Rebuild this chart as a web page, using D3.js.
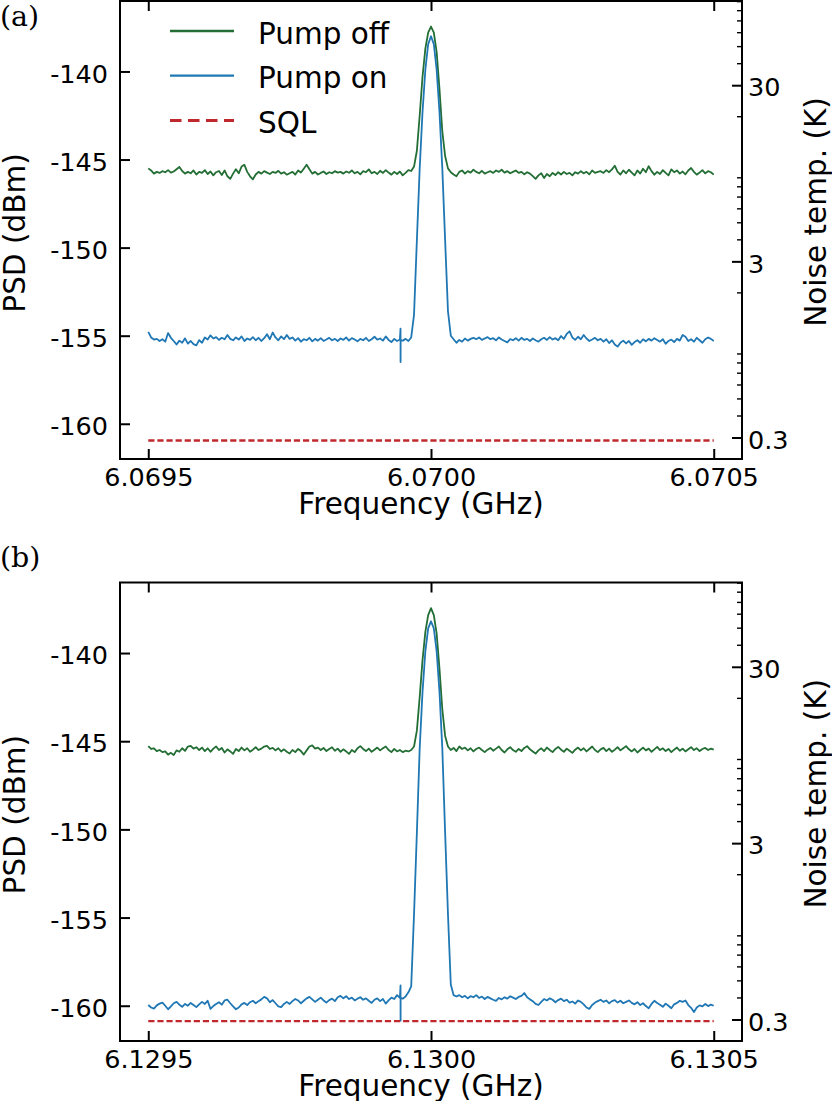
<!DOCTYPE html>
<html><head><meta charset="utf-8">
<script src="https://cdn.jsdelivr.net/npm/d3@7"></script>
<style>body{margin:0;background:#fff}svg{display:block}</style>
</head><body>
<svg id="chart" width="832" height="1101"></svg>
<script>
// ---------------- data ----------------
const centerA = 6.0700, centerB = 6.1300;   // GHz
const sweepHalfSpan = 0.0005;                // GHz
const sweepStep = 0.000005;                  // GHz (5 kHz)
const xTicksA = [6.0695, 6.0700, 6.0705];
const xTickLabelsA = ["6.0695", "6.0700", "6.0705"];
const xTicksB = [6.1295, 6.1300, 6.1305];
const xTickLabelsB = ["6.1295", "6.1300", "6.1305"];
const yTicks = [-160, -155, -150, -145, -140];
const yTickLabels = ["-160", "-155", "-150", "-145", "-140"];
const tempTicks = [0.3, 3, 30];
const tempTickLabels = ["0.3", "3", "30"];
const tempMinorTicks = [0.4,0.5,0.6,0.7,0.8,0.9,2,4,5,6,7,8,9,20,40,50,60,70,80,90];
const tempRefK = 30, tempRefDbm = -140.78;
const sqlA = -160.95, sqlB = -160.87;
const seriesNames = ["Pump off", "Pump on", "SQL"];

const pumpOffA = [
-145.50,-145.62,-145.80,-145.70,-145.76,-145.66,-145.72,-145.60,-145.74,-145.68,
-145.55,-145.42,-145.65,-145.80,-145.70,-145.78,-145.62,-145.85,-145.70,-145.76,
-145.60,-145.82,-145.68,-145.90,-145.72,-145.65,-145.88,-145.62,-145.95,-146.10,
-145.80,-145.55,-145.78,-145.40,-145.30,-145.70,-145.95,-146.12,-145.85,-145.70,
-145.80,-145.66,-145.74,-145.82,-145.70,-145.76,-145.64,-145.80,-145.72,-145.86,
-145.78,-145.70,-145.85,-145.62,-145.74,-145.52,-145.30,-145.55,-145.80,-145.70,
-145.85,-145.76,-145.68,-145.82,-145.72,-145.78,-145.66,-145.74,-145.70,-145.80,
-145.68,-145.75,-145.62,-145.78,-145.70,-145.84,-145.66,-145.72,-145.56,-145.78,
-145.70,-145.82,-145.64,-145.76,-145.60,-145.74,-145.86,-145.70,-145.82,-145.68,
-145.90,-145.76,-145.60,-145.65,-145.40,-144.50,-142.50,-140.30,-138.70,-137.80,
-137.45,-137.80,-138.90,-141.00,-143.40,-144.80,-145.50,-145.72,-145.85,-145.95,
-145.70,-145.62,-145.80,-145.66,-145.74,-145.58,-145.70,-145.78,-145.64,-145.80,
-145.72,-145.66,-145.76,-145.62,-145.70,-145.58,-145.74,-145.66,-145.78,-145.70,
-145.62,-145.76,-145.70,-145.84,-145.72,-145.80,-145.94,-146.10,-145.90,-145.78,
-146.05,-145.82,-145.95,-145.76,-145.88,-145.72,-145.85,-145.70,-145.82,-145.76,
-145.90,-145.72,-145.80,-145.66,-145.78,-145.70,-145.84,-145.62,-145.76,-145.70,
-145.66,-145.76,-145.60,-145.72,-145.56,-145.35,-145.70,-145.85,-145.62,-145.78,
-145.58,-145.74,-145.90,-145.62,-145.80,-145.52,-145.72,-145.38,-145.66,-145.86,
-145.70,-145.82,-145.60,-145.76,-145.90,-145.56,-145.72,-145.62,-145.80,-145.68,
-145.84,-145.62,-145.48,-145.70,-145.86,-145.74,-145.60,-145.78,-145.66,-145.72,
-145.86];

const pumpOnA = [
-154.78,-155.10,-155.22,-155.18,-155.30,-155.20,-155.34,-154.85,-155.12,-155.30,
-155.50,-155.28,-155.40,-155.15,-155.45,-155.30,-155.48,-155.55,-155.25,-155.40,
-155.10,-155.22,-154.98,-155.16,-155.08,-155.24,-155.12,-155.20,-154.96,-155.18,
-155.26,-155.10,-155.22,-155.04,-155.30,-155.16,-155.24,-155.08,-155.26,-155.12,
-155.30,-155.14,-154.92,-155.20,-154.82,-155.10,-155.26,-155.04,-155.20,-154.96,
-155.18,-155.10,-155.28,-155.14,-155.34,-155.20,-155.26,-155.12,-155.32,-155.18,
-155.28,-155.14,-155.30,-155.22,-155.12,-155.26,-155.18,-155.30,-155.16,-155.24,
-155.10,-155.28,-155.14,-155.22,-155.32,-155.18,-155.26,-155.12,-155.30,-155.20,
-155.06,-155.22,-155.16,-155.28,-155.04,-155.24,-155.36,-155.18,-155.30,-155.22,
-155.28,-155.18,-155.30,-155.10,-153.80,-149.60,-145.50,-142.30,-139.90,-138.45,
-138.00,-138.45,-139.90,-142.30,-145.50,-149.60,-153.60,-155.00,-155.20,-155.40,
-155.24,-155.34,-155.16,-155.28,-155.18,-155.12,-155.20,-155.10,-155.24,-155.16,
-155.08,-155.20,-155.14,-155.26,-155.10,-155.22,-155.30,-155.38,-155.20,-155.26,
-155.14,-155.28,-155.12,-155.24,-155.18,-155.30,-155.16,-155.26,-155.34,-155.20,
-155.12,-155.24,-155.08,-155.22,-155.14,-155.26,-155.02,-155.18,-154.90,-154.75,
-155.10,-155.24,-155.06,-155.20,-154.96,-155.16,-155.30,-155.22,-155.12,-155.26,
-155.18,-155.34,-155.20,-155.42,-155.26,-155.50,-155.62,-155.40,-155.28,-155.44,
-155.30,-155.52,-155.36,-155.26,-155.40,-155.20,-155.32,-155.18,-155.28,-155.14,
-155.24,-155.34,-155.20,-155.46,-155.30,-155.22,-155.36,-155.18,-155.28,-154.96,
-155.06,-155.30,-155.20,-155.34,-155.12,-155.26,-155.40,-155.20,-155.10,-155.18,
-155.30];

const pumpOffB = [
-145.28,-145.44,-145.40,-145.56,-145.50,-145.62,-145.58,-145.76,-145.66,-145.78,
-145.52,-145.60,-145.40,-145.55,-145.30,-145.26,-145.42,-145.34,-145.50,-145.36,
-145.56,-145.40,-145.60,-145.42,-145.30,-145.50,-145.38,-145.64,-145.46,-145.58,
-145.72,-145.44,-145.56,-145.36,-145.52,-145.40,-145.60,-145.48,-145.34,-145.50,
-145.42,-145.30,-145.26,-145.44,-145.38,-145.52,-145.40,-145.58,-145.46,-145.60,
-145.70,-145.50,-145.62,-145.44,-145.56,-145.76,-145.52,-145.30,-145.24,-145.42,
-145.36,-145.50,-145.38,-145.56,-145.44,-145.34,-145.54,-145.42,-145.60,-145.46,
-145.58,-145.72,-145.50,-145.62,-145.40,-145.28,-145.44,-145.56,-145.42,-145.60,
-145.48,-145.36,-145.52,-145.40,-145.30,-145.50,-145.62,-145.44,-145.58,-145.50,
-145.62,-145.54,-145.58,-145.50,-145.30,-144.40,-142.50,-140.40,-138.80,-137.85,
-137.45,-137.85,-138.90,-140.90,-143.20,-144.70,-145.30,-145.50,-145.38,-145.56,
-145.30,-145.44,-145.36,-145.52,-145.40,-145.58,-145.44,-145.36,-145.50,-145.62,
-145.48,-145.38,-145.54,-145.42,-145.30,-145.50,-145.64,-145.46,-145.34,-145.50,
-145.60,-145.44,-145.56,-145.38,-145.28,-145.46,-145.58,-145.70,-145.52,-145.40,
-145.56,-145.36,-145.50,-145.62,-145.44,-145.32,-145.48,-145.60,-145.42,-145.54,
-145.66,-145.48,-145.36,-145.52,-145.40,-145.58,-145.44,-145.30,-145.50,-145.62,
-145.46,-145.38,-145.56,-145.42,-145.60,-145.48,-145.34,-145.52,-145.40,-145.28,
-145.46,-145.58,-145.44,-145.64,-145.50,-145.36,-145.52,-145.42,-145.60,-145.46,
-145.32,-145.50,-145.40,-145.56,-145.44,-145.62,-145.48,-145.36,-145.54,-145.42,
-145.58,-145.46,-145.34,-145.50,-145.40,-145.56,-145.44,-145.38,-145.50,-145.42,
-145.48];

const pumpOnB = [
-159.96,-160.10,-160.16,-159.98,-159.88,-159.82,-160.00,-160.20,-160.04,-159.86,
-159.78,-159.94,-160.06,-159.90,-160.00,-159.84,-159.96,-160.08,-159.92,-159.78,
-159.90,-159.72,-160.18,-160.02,-159.90,-159.80,-159.94,-159.70,-159.66,-159.86,
-160.04,-160.20,-160.10,-159.92,-159.84,-159.96,-159.80,-159.72,-159.86,-159.74,
-159.64,-159.50,-159.58,-159.80,-159.68,-159.86,-160.04,-160.08,-159.90,-159.78,
-159.90,-159.74,-159.62,-159.70,-159.86,-159.72,-159.58,-159.50,-159.64,-159.78,
-159.66,-159.54,-159.70,-159.82,-159.68,-159.60,-159.74,-159.52,-159.44,-159.58,
-159.46,-159.62,-159.54,-159.70,-159.60,-159.52,-159.66,-159.58,-159.72,-159.84,
-159.66,-159.58,-159.74,-159.62,-159.88,-159.70,-159.54,-159.62,-159.40,-159.56,
-159.60,-159.48,-159.24,-158.90,-154.80,-150.20,-145.40,-142.20,-139.90,-138.60,
-138.20,-138.60,-139.90,-142.20,-145.40,-150.20,-154.80,-158.80,-159.40,-159.48,
-159.40,-159.52,-159.44,-159.58,-159.46,-159.52,-159.40,-159.56,-159.48,-159.62,
-159.50,-159.58,-159.66,-159.72,-159.56,-159.64,-159.52,-159.60,-159.46,-159.54,
-159.62,-159.50,-159.44,-159.28,-159.52,-159.64,-159.74,-159.90,-159.96,-159.78,
-159.62,-159.70,-159.58,-159.66,-159.80,-159.68,-159.60,-159.74,-159.66,-159.82,
-159.76,-159.88,-159.70,-159.78,-159.92,-160.10,-160.18,-159.96,-159.82,-159.74,
-159.66,-159.78,-159.70,-159.86,-159.74,-159.68,-159.82,-159.72,-159.86,-159.78,
-159.70,-159.84,-159.92,-159.80,-159.96,-159.86,-160.02,-160.14,-159.90,-159.72,
-159.84,-159.94,-160.06,-159.88,-160.00,-160.14,-159.92,-159.84,-159.72,-159.78,
-159.70,-159.96,-160.12,-160.36,-160.10,-159.98,-160.04,-159.90,-160.02,-159.94,
-160.00];

// narrow glitch in the pump-on trace: [frequency GHz, PSD dBm]
const spikeA = [[6.0699461, -154.60], [6.0699462, -156.50], [6.0699463, -155.25]];
const spikeB = [[6.1299461, -158.85], [6.1299462, -160.85], [6.1299463, -159.55]];

// ---------------- drawing ----------------
const COL_OFF = "#236e34", COL_ON = "#1f77b4", COL_SQL = "#c0282e";
const FONT = "'DejaVu Sans', sans-serif";
const svg = d3.select("#chart");
const plotLeft = 120, plotRight = 742;

const dbmToK = p => tempRefK * Math.pow(10, (p - tempRefDbm) / 10);

function drawPanel(cfg) {
  const g = svg.append("g");
  const x = d3.scaleLinear().domain([cfg.center - 0.00055, cfg.center + 0.00055]).range([plotLeft, plotRight]);
  const y = d3.scaleLinear().domain([-162, -136]).range([cfg.bottom, cfg.top]);
  const t = d3.scaleLog().domain([dbmToK(-162), dbmToK(-136)]).range([cfg.bottom, cfg.top]);

  const freqs = d3.range(cfg.off.length).map(i => cfg.center - sweepHalfSpan + i * sweepStep);
  const offData = freqs.map((f, i) => [f, cfg.off[i]]);
  const onData = freqs.map((f, i) => [f, cfg.on[i]]).concat(cfg.spike).sort((a, b) => a[0] - b[0]);
  const line = d3.line().x(d => x(d[0])).y(d => y(d[1]));

  g.append("path").datum(offData).attr("d", line)
    .attr("fill", "none").attr("stroke", COL_OFF).attr("stroke-width", 1.8).attr("stroke-linejoin", "round");
  g.append("path").datum(onData).attr("d", line)
    .attr("fill", "none").attr("stroke", COL_ON).attr("stroke-width", 1.8).attr("stroke-linejoin", "round");
  g.append("line")
    .attr("x1", x(cfg.center - sweepHalfSpan)).attr("x2", x(cfg.center + sweepHalfSpan))
    .attr("y1", y(cfg.sql)).attr("y2", y(cfg.sql))
    .attr("stroke", COL_SQL).attr("stroke-width", 2.3).attr("stroke-dasharray", "6.2,2.9");

  // left axis
  const ax = g.append("g").attr("transform", `translate(${plotLeft},0)`)
    .call(d3.axisLeft(y).tickValues(yTicks).tickFormat((d, i) => yTickLabels[i]).tickSize(-10).tickPadding(12));
  ax.select(".domain").remove();
  ax.selectAll(".tick line").attr("stroke", "#000").attr("stroke-width", 2);
  ax.selectAll(".tick text").attr("font-family", FONT).attr("font-size", 25.5).attr("fill", "#000").attr("dy", "0.42em");

  // bottom axis
  const bx = g.append("g").attr("transform", `translate(0,${cfg.bottom})`)
    .call(d3.axisBottom(x).tickValues(cfg.xticks).tickFormat((d, i) => cfg.xlabels[i]).tickSize(-10));
  bx.select(".domain").remove();
  bx.selectAll(".tick line").attr("stroke", "#000").attr("stroke-width", 2);
  bx.selectAll(".tick text").attr("font-family", FONT).attr("font-size", 25.5).attr("fill", "#000")
    .attr("y", 27).attr("dy", 0);

  // top axis (ticks only)
  const tx = g.append("g").attr("transform", `translate(0,${cfg.top})`)
    .call(d3.axisTop(x).tickValues(cfg.xticks).tickFormat("").tickSize(-10));
  tx.select(".domain").remove();
  tx.selectAll(".tick line").attr("stroke", "#000").attr("stroke-width", 2);

  // right axis (noise temperature, log)
  const rxMinor = g.append("g").attr("transform", `translate(${plotRight},0)`)
    .call(d3.axisRight(t).tickValues(tempMinorTicks.filter(v => v > t.domain()[0] && v < t.domain()[1])).tickFormat("").tickSize(-5));
  rxMinor.select(".domain").remove();
  rxMinor.selectAll(".tick line").attr("stroke", "#000").attr("stroke-width", 1.4);
  const rx = g.append("g").attr("transform", `translate(${plotRight},0)`)
    .call(d3.axisRight(t).tickValues(tempTicks).tickFormat((d, i) => tempTickLabels[i]).tickSize(-10).tickPadding(6));
  rx.select(".domain").remove();
  rx.selectAll(".tick line").attr("stroke", "#000").attr("stroke-width", 2);
  rx.selectAll(".tick text").attr("font-family", FONT).attr("font-size", 25.5).attr("fill", "#000").attr("dy", "0.42em");

  // frame
  g.append("rect").attr("x", plotLeft).attr("y", cfg.top)
    .attr("width", plotRight - plotLeft).attr("height", cfg.bottom - cfg.top)
    .attr("fill", "none").attr("stroke", "#000").attr("stroke-width", 2);

  // axis labels
  const midY = (cfg.top + cfg.bottom) / 2;
  g.append("text").attr("x", 421).attr("y", cfg.bottom + 55).attr("text-anchor", "middle")
    .attr("font-family", FONT).attr("font-size", 29.5).text("Frequency (GHz)");
  g.append("text").attr("transform", `translate(25,${midY + 3}) rotate(-90)`).attr("text-anchor", "middle")
    .attr("font-family", FONT).attr("font-size", 29.5).text("PSD (dBm)");
  g.append("text").attr("transform", `translate(826,${midY - 18}) rotate(-90)`).attr("text-anchor", "middle")
    .attr("font-family", FONT).attr("font-size", 29.5).text("Noise temp. (K)");

  // panel label
  g.append("text").attr("x", 0).attr("y", cfg.top + cfg.labelDy)
    .attr("font-family", "'DejaVu Serif', serif").attr("font-size", 28.5).text(cfg.label);

  if (cfg.legend) {
    const lg = g.append("g");
    const rows = [{c: COL_OFF, dash: null, w: 2.3}, {c: COL_ON, dash: null, w: 2.3}, {c: COL_SQL, dash: "11.5,6.5", w: 3}];
    rows.forEach((r, i) => {
      const ly = cfg.top + 30 + i * 44.7;
      lg.append("line").attr("x1", 170).attr("x2", 234).attr("y1", ly).attr("y2", ly)
        .attr("stroke", r.c).attr("stroke-width", r.w).attr("stroke-dasharray", r.dash);
      lg.append("text").attr("x", 258).attr("y", ly + 12.5)
        .attr("font-family", FONT).attr("font-size", 29.5).text(seriesNames[i]);
    });
  }
}

drawPanel({label: "(a)", top: 1, bottom: 459, labelDy: 25, center: centerA, xticks: xTicksA, xlabels: xTickLabelsA,
  off: pumpOffA, on: pumpOnA, spike: spikeA, sql: sqlA, legend: true});
drawPanel({label: "(b)", top: 582.5, bottom: 1041, labelDy: -16, center: centerB, xticks: xTicksB, xlabels: xTickLabelsB,
  off: pumpOffB, on: pumpOnB, spike: spikeB, sql: sqlB, legend: false});
</script>
</body></html>
